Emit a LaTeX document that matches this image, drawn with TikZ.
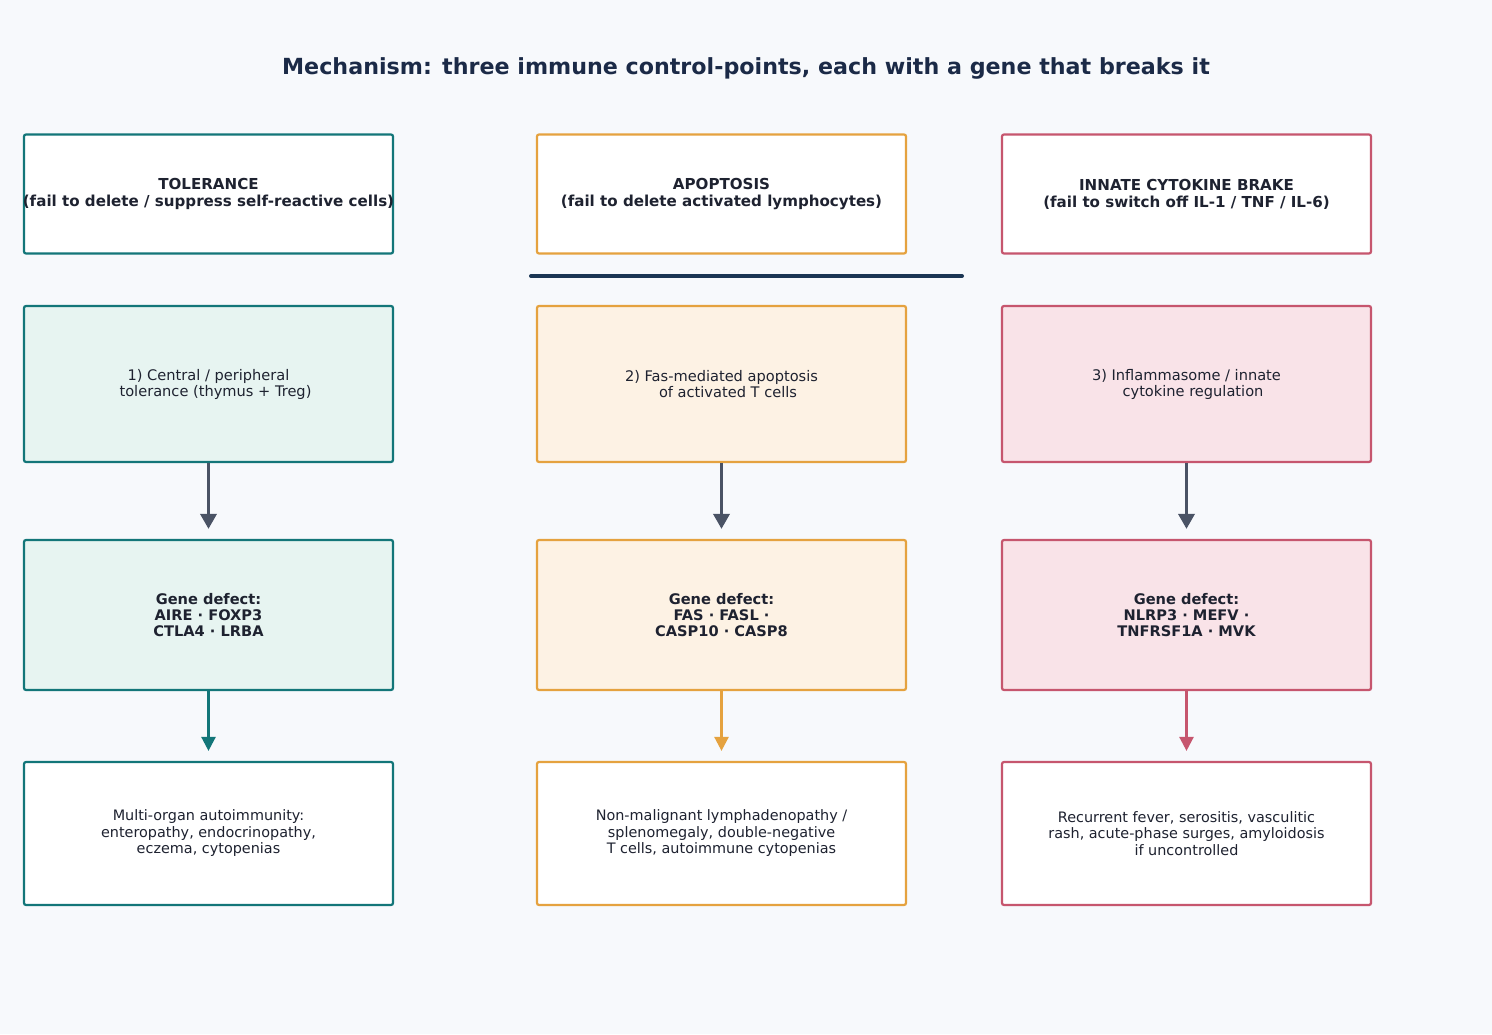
\documentclass[tikz,border=0pt]{standalone}
\usepackage{fontspec}
\setmainfont{DejaVu Sans}
\usetikzlibrary{arrows.meta}
\definecolor{bgc}{HTML}{F7F9FC}
\definecolor{tealc}{HTML}{137679}
\definecolor{tealf}{HTML}{E7F4F1}
\definecolor{orc}{HTML}{E5A23F}
\definecolor{orf}{HTML}{FDF2E4}
\definecolor{rosec}{HTML}{C6566E}
\definecolor{rosef}{HTML}{F9E3E8}
\definecolor{txt}{HTML}{1E2230}
\definecolor{titlec}{HTML}{1B2A47}
\definecolor{navy}{HTML}{1B3654}
\definecolor{grayar}{HTML}{4A5365}
\tikzset{
  box/.style={draw, line width=2.2pt, rounded corners=2pt, minimum width=369pt, align=center, text=txt, inner sep=0pt},
  hdr/.style={box, fill=white, minimum height=119pt, font=\fontsize{15.1}{17}\selectfont\bfseries},
  mech/.style={box, minimum height=156pt, font=\fontsize{14.6}{16}\selectfont},
  gene/.style={box, minimum height=150pt, font=\fontsize{14.6}{16}\selectfont\bfseries},
  res/.style={box, fill=white, minimum height=143pt, font=\fontsize{14.4}{16.5}\selectfont},
  grayarrow/.style={draw=grayar, line width=3.4pt, -{Triangle[length=15pt,width=16pt]}, shorten >=10pt},
  colarrow/.style={line width=2.5pt, -{Triangle[length=14pt,width=14pt]}, shorten >=10pt},
}
\begin{document}
\begin{tikzpicture}[x=1pt,y=-1pt]
\fill[bgc] (0,0) rectangle (1492,1034);
\useasboundingbox (0,0) rectangle (1492,1034);
\node[font=\fontsize{22.2}{26}\selectfont\bfseries, text=titlec] (title) at (746,68) {Mechanism: three immune control-points, each with a gene that breaks it};
% headers
\node[hdr, draw=tealc] (h1) at (208.5,194) {TOLERANCE\\\makebox[0pt][c]{(fail to delete / suppress self-reactive cells)}};
\node[hdr, draw=orc] (h2) at (721.5,194) {APOPTOSIS\\(fail to delete activated lymphocytes)};
\node[hdr, draw=rosec] (h3) at (1186.5,194) {INNATE CYTOKINE BRAKE\\(fail to switch off IL-1 / TNF / IL-6)};
% divider line
\coordinate (l1) at (531,276);
\coordinate (l2) at (962,276);
\draw[navy, line width=4pt, line cap=round] (l1) -- (l2);
% mechanisms
\node[mech, draw=tealc, fill=tealf] (m1) at (208.5,384) {1) Central / peripheral\\\hspace*{14pt}tolerance (thymus + Treg)};
\node[mech, draw=orc, fill=orf] (m2) at (721.5,384) {2) Fas-mediated apoptosis\\\hspace*{13pt}of activated T cells};
\node[mech, draw=rosec, fill=rosef] (m3) at (1186.5,384) {3) Inflammasome / innate\\\hspace*{13pt}cytokine regulation};
% genes
\node[gene, draw=tealc, fill=tealf] (g1) at (208.5,615) {Gene defect:\\AIRE · FOXP3\\CTLA4 · LRBA};
\node[gene, draw=orc, fill=orf] (g2) at (721.5,615) {Gene defect:\\FAS · FASL ·\\CASP10 · CASP8};
\node[gene, draw=rosec, fill=rosef] (g3) at (1186.5,615) {Gene defect:\\NLRP3 · MEFV ·\\TNFRSF1A · MVK};
% results
\node[res, draw=tealc] (r1) at (208.5,833.5) {Multi-organ autoimmunity:\\enteropathy, endocrinopathy,\\eczema, cytopenias};
\node[res, draw=orc] (r2) at (721.5,833.5) {Non-malignant lymphadenopathy /\\splenomegaly, double-negative\\T cells, autoimmune cytopenias};
\node[res, draw=rosec] (r3) at (1186.5,833.5) {Recurrent fever, serositis, vasculitic\\rash, acute-phase surges, amyloidosis\\if uncontrolled};
% arrows
\draw[grayarrow] (m1.south) -- (g1.north);
\draw[grayarrow] (m2.south) -- (g2.north);
\draw[grayarrow] (m3.south) -- (g3.north);
\draw[colarrow, draw=tealc] (g1.south) -- (r1.north);
\draw[colarrow, draw=orc] (g2.south) -- (r2.north);
\draw[colarrow, draw=rosec] (g3.south) -- (r3.north);
\end{tikzpicture}
\end{document}
